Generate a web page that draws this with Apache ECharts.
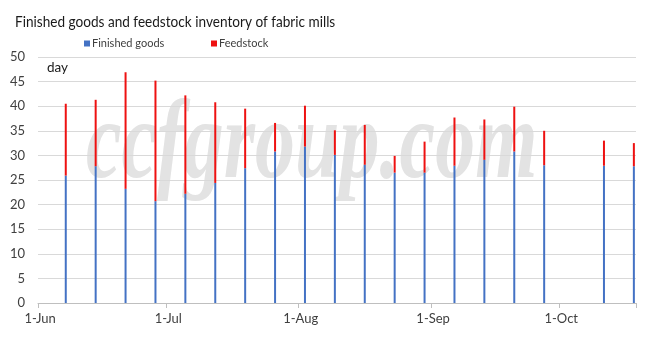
<!DOCTYPE html>
<html>
<head>
<meta charset="utf-8">
<script src="https://cdn.jsdelivr.net/npm/echarts@6/dist/echarts.min.js"></script>
<style>
  html, body { margin: 0; padding: 0; background: #fff; }
  #chart { width: 658px; height: 347px; }
</style>
</head>
<body>
<div id="chart"></div>
<script>
// Weekly survey dates
const dates = [
  '2019-06-07', '2019-06-14', '2019-06-21', '2019-06-28',
  '2019-07-05', '2019-07-12', '2019-07-19', '2019-07-26',
  '2019-08-02', '2019-08-09', '2019-08-16', '2019-08-23', '2019-08-30',
  '2019-09-06', '2019-09-13', '2019-09-20', '2019-09-27',
  '2019-10-11', '2019-10-18'
];
// Inventory days of finished goods
const finishedGoods = [
  25.9, 27.8, 23.2, 20.7, 22.2, 24.4, 27.4, 30.8,
  31.8, 30.1, 28.1, 26.5, 26.5, 27.9, 29.1, 30.8, 28.0,
  27.9, 27.8
];
// Inventory days of feedstock (stacked on top)
const feedstock = [
  14.6, 13.5, 23.7, 24.5, 20.0, 16.4, 12.1, 5.8,
  8.3, 5.0, 8.1, 3.4, 6.3, 9.8, 8.2, 9.1, 7.0,
  5.1, 4.7
];
// Month-start ticks on the date axis and their labels
const monthTicks = ['2019-06-01', '2019-07-01', '2019-08-01', '2019-09-01', '2019-10-01'];
const monthLabels = ['1-Jun', '1-Jul', '1-Aug', '1-Sep', '1-Oct'];
const axisStart = '2019-06-01';
const axisEnd = '2019-10-19';
const yTicks = { min: 0, max: 50, interval: 5 };

const DAY = 24 * 3600 * 1000;
function dayOffset(s) {
  const p = s.split('-').map(Number);
  const a = axisStart.split('-').map(Number);
  return Math.round((Date.UTC(p[0], p[1] - 1, p[2]) - Date.UTC(a[0], a[1] - 1, a[2])) / DAY);
}
// one category per calendar day, so each bar sits in the middle of its day
const daySlots = [];
for (let i = 0; i < dayOffset(axisEnd); i++) daySlots.push(String(i));
const tickPos = monthTicks.map(dayOffset);
const isMonthStart = idx => tickPos.indexOf(idx) >= 0;

const FONT = 'Lato';
const chart = echarts.init(document.getElementById('chart'));
chart.setOption({
  animation: false,
  textStyle: { fontFamily: FONT },
  legend: [
    {
      data: ['Finished goods'], left: 84, top: 38, padding: 0,
      icon: 'rect', itemWidth: 6, itemHeight: 6,
      textStyle: { fontFamily: FONT, fontSize: 11, color: '#404040', padding: [0, 0, 0, -3] }
    },
    {
      data: ['Feedstock'], left: 211, top: 38, padding: 0,
      icon: 'rect', itemWidth: 6, itemHeight: 6,
      textStyle: { fontFamily: FONT, fontSize: 11, color: '#404040', padding: [0, 0, 0, -3] }
    }
  ],
  grid: { left: 38, right: 22, top: 57, bottom: 44 },
  graphic: [
    {
      // chart title, condensed to the width of the heading
      type: 'text', x: 15, y: 22, scaleX: 0.85, z: 10,
      style: {
        text: 'Finished goods and feedstock inventory of fabric mills',
        fontFamily: FONT, fontSize: 16, fill: '#1a1a1a', verticalAlign: 'middle'
      }
    },
    {
      type: 'text', left: 47, top: 61, z: 10,
      style: { text: 'day', fontFamily: FONT, fontSize: 13.5, fill: '#1a1a1a' }
    },
    {
      type: 'text', x: 86, y: 148, z: -1, scaleX: 0.715, silent: true,
      style: {
        text: 'ccfgroup.com', fontFamily: 'Liberation Serif', fontStyle: 'italic', fontWeight: 'bold',
        fontSize: 112, fill: '#e3e3e3', verticalAlign: 'middle'
      }
    }
  ],
  xAxis: {
    type: 'category',
    data: daySlots,
    boundaryGap: true,
    axisLine: { show: true, lineStyle: { color: '#bfbfbf' } },
    axisTick: {
      show: true, length: 5, lineStyle: { color: '#bfbfbf' },
      interval: idx => isMonthStart(idx)
    },
    axisLabel: {
      interval: idx => isMonthStart(idx),
      margin: 9, fontSize: 13, color: '#404040', fontFamily: FONT,
      formatter: (v, idx) => monthLabels[tickPos.indexOf(idx)] || ''
    },
    splitLine: { show: false }
  },
  yAxis: {
    type: 'value',
    min: yTicks.min, max: yTicks.max, interval: yTicks.interval,
    axisLine: { show: false },
    axisTick: { show: false },
    axisLabel: { margin: 13, fontSize: 13, color: '#404040', fontFamily: FONT },
    splitLine: { lineStyle: { color: '#d9d9d9' } }
  },
  series: [
    {
      name: 'Finished goods', type: 'bar', stack: 'inv', barWidth: 2,
      itemStyle: { color: '#4472c4' },
      data: dates.map((d, i) => [dayOffset(d), finishedGoods[i]])
    },
    {
      name: 'Feedstock', type: 'bar', stack: 'inv', barWidth: 2,
      itemStyle: { color: '#ee1111' },
      data: dates.map((d, i) => [dayOffset(d), feedstock[i]])
    }
  ]
});
</script>
</body>
</html>
